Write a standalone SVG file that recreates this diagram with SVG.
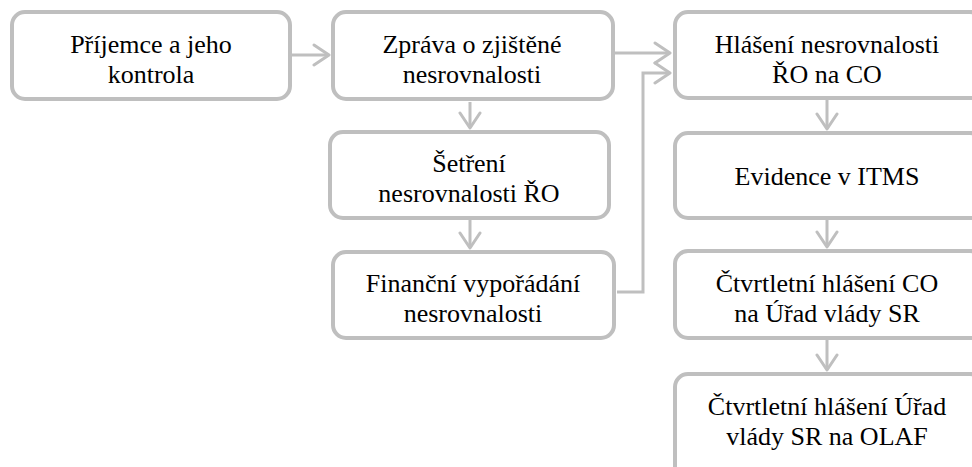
<svg xmlns="http://www.w3.org/2000/svg" width="972" height="467" viewBox="0 0 972 467">
<style>
.box{fill:#ffffff;stroke:#bfbfbf;stroke-width:4}
.t{font-family:'Liberation Serif','Times New Roman',serif;font-size:26px;fill:#000000;text-anchor:middle}
.c{fill:none;stroke:#bfbfbf;stroke-width:3}
</style>
<defs>
<marker id="arr" markerUnits="userSpaceOnUse" viewBox="0 0 20 24" refX="17" refY="12" markerWidth="20" markerHeight="24" orient="auto">
<path d="M2,2 L17,12 L2,22" fill="none" stroke="#bfbfbf" stroke-width="3" stroke-linejoin="round" stroke-linecap="round"/>
</marker>
</defs>
<rect width="972" height="467" fill="#ffffff"/>
<g id="connectors">
<line class="c" x1="292" y1="55" x2="329" y2="55" marker-end="url(#arr)"/>
<line class="c" x1="615" y1="53" x2="670" y2="53" marker-end="url(#arr)"/>
<path class="c" d="M617,292 H643 V73 H670" marker-end="url(#arr)"/>
<line class="c" x1="470" y1="102" x2="470" y2="128" marker-end="url(#arr)"/>
<line class="c" x1="470" y1="220" x2="470" y2="248" marker-end="url(#arr)"/>
<line class="c" x1="827" y1="100" x2="827" y2="129" marker-end="url(#arr)"/>
<line class="c" x1="827" y1="220" x2="827" y2="247" marker-end="url(#arr)"/>
<line class="c" x1="827" y1="340" x2="827" y2="370" marker-end="url(#arr)"/>
</g>
<g id="n1"><rect class="box" x="12" y="12" width="278" height="87" rx="13"/>
<text class="t" x="151" y="53">Příjemce a jeho</text><text class="t" x="151" y="83">kontrola</text></g>
<g id="n2"><rect class="box" x="333" y="12" width="280" height="87" rx="13"/>
<text class="t" x="472" y="53">Zpráva o zjištěné</text><text class="t" x="472" y="83">nesrovnalosti</text></g>
<g id="n3"><rect class="box" x="330" y="132" width="279" height="86" rx="13"/>
<text class="t" x="469" y="172">Šetření</text><text class="t" x="469" y="202">nesrovnalosti ŘO</text></g>
<g id="n4"><rect class="box" x="333" y="252" width="281" height="86" rx="13"/>
<text class="t" x="473" y="292">Finanční vypořádání</text><text class="t" x="473" y="322">nesrovnalosti</text></g>
<g id="n5"><rect class="box" x="675" y="12" width="308" height="86" rx="13"/>
<text class="t" x="827" y="53">Hlášení nesrovnalosti</text><text class="t" x="827" y="83">ŘO na CO</text></g>
<g id="n6"><rect class="box" x="675" y="133" width="308" height="85" rx="13"/>
<text class="t" x="827" y="185">Evidence v ITMS</text></g>
<g id="n7"><rect class="box" x="675" y="251" width="308" height="87" rx="13"/>
<text class="t" x="827" y="292">Čtvrtletní hlášení CO</text><text class="t" x="827" y="322">na Úřad vlády SR</text></g>
<g id="n8"><rect class="box" x="675" y="374" width="308" height="110" rx="13"/>
<text class="t" x="827" y="415">Čtvrtletní hlášení Úřad</text><text class="t" x="827" y="445">vlády SR na OLAF</text></g>
</svg>
